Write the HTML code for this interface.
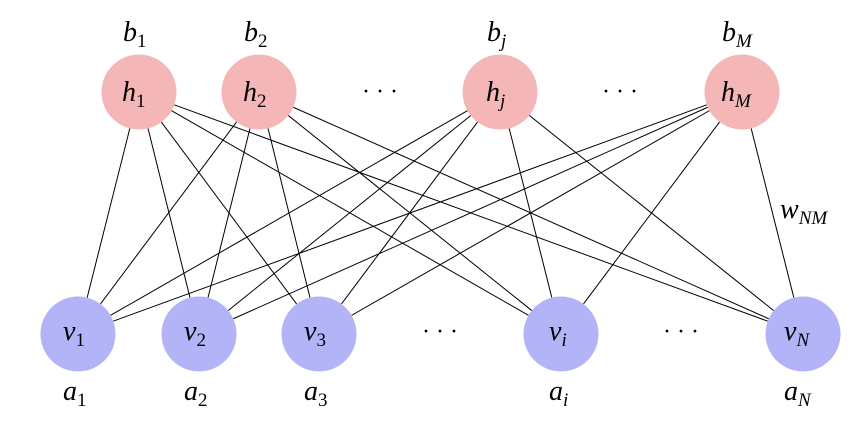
<!DOCTYPE html>
<html><head><meta charset="utf-8"><style>
html,body{margin:0;padding:0;background:#fff;}
svg{display:block;}
text{font-family:"Liberation Serif",serif;font-style:italic;font-size:28px;fill:#000;}
.s{font-size:19px;font-style:normal;}
.si{font-size:19px;font-style:italic;}
.d{font-style:normal;font-size:24px;}
</style></head><body>
<svg id="g" width="864" height="426" viewBox="0 0 864 426" xmlns="http://www.w3.org/2000/svg">
<g id="lines" stroke="#000" stroke-width="1"></g>
<g fill="#f4b6b6">
<circle cx="139" cy="92" r="37.5"/><circle cx="259" cy="92" r="37.5"/><circle cx="500" cy="92" r="37.5"/><circle cx="742" cy="92" r="37.5"/>
</g>
<g fill="#b3b3f8">
<circle cx="78" cy="334" r="37.5"/><circle cx="199" cy="334" r="37.5"/><circle cx="319" cy="334" r="37.5"/><circle cx="561" cy="334" r="37.5"/><circle cx="803" cy="334" r="37.5"/>
</g>
<text x="122" y="101">h<tspan class="s" dy="6">1</tspan></text>
<text x="243" y="101">h<tspan class="s" dy="6">2</tspan></text>
<text x="486" y="101">h<tspan class="si" dy="6">j</tspan></text>
<text x="721" y="101">h<tspan class="si" dy="6">M</tspan></text>
<text x="123" y="41">b<tspan class="s" dy="6">1</tspan></text>
<text x="244" y="41">b<tspan class="s" dy="6">2</tspan></text>
<text x="487" y="41">b<tspan class="si" dy="6">j</tspan></text>
<text x="722" y="41">b<tspan class="si" dy="6">M</tspan></text>
<text x="63" y="340">v<tspan class="s" dy="6">1</tspan></text>
<text x="184" y="340">v<tspan class="s" dy="6">2</tspan></text>
<text x="304" y="340">v<tspan class="s" dy="6">3</tspan></text>
<text x="549" y="340">v<tspan class="si" dy="6">i</tspan></text>
<text x="784" y="340">v<tspan class="si" dy="6">N</tspan></text>
<text x="63" y="400">a<tspan class="s" dy="6">1</tspan></text>
<text x="184" y="400">a<tspan class="s" dy="6">2</tspan></text>
<text x="304" y="400">a<tspan class="s" dy="6">3</tspan></text>
<text x="549" y="400">a<tspan class="si" dy="6">i</tspan></text>
<text x="784" y="400">a<tspan class="si" dy="6">N</tspan></text>
<text x="780" y="218">w<tspan class="si" dy="6">NM</tspan></text>
<text class="d" x="362" y="99">· · ·</text>
<text class="d" x="602" y="99">· · ·</text>
<text class="d" x="422" y="339">· · ·</text>
<text class="d" x="663" y="339">· · ·</text>
</svg>
<script>
var H=[[139,92],[259,92],[500,92],[742,92]],V=[[78,334],[199,334],[319,334],[561,334],[803,334]],r=37.5,g=document.getElementById('lines'),s='';
H.forEach(function(h){V.forEach(function(v){var dx=v[0]-h[0],dy=v[1]-h[1],L=Math.hypot(dx,dy),ux=dx/L,uy=dy/L;
s+='<line x1="'+(h[0]+ux*r)+'" y1="'+(h[1]+uy*r)+'" x2="'+(v[0]-ux*r)+'" y2="'+(v[1]-uy*r)+'"/>';});});
g.innerHTML=s;
</script>
</body></html>
